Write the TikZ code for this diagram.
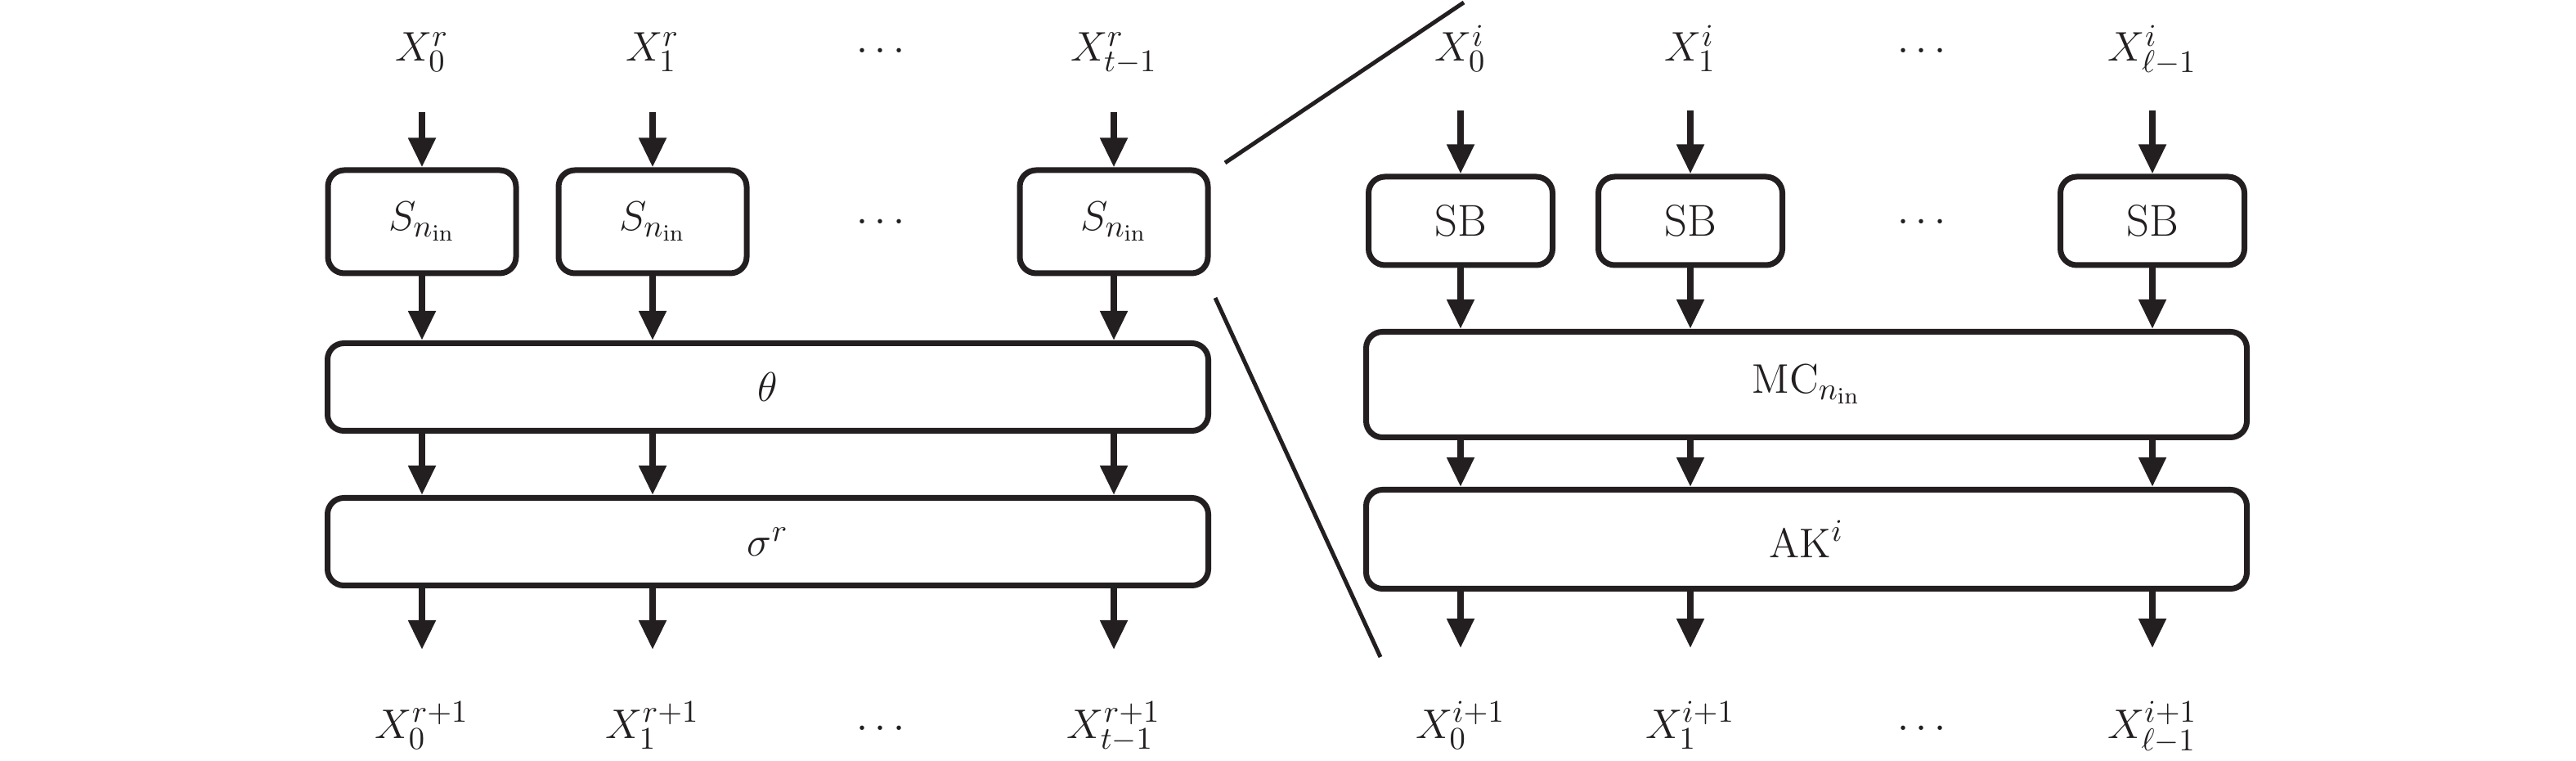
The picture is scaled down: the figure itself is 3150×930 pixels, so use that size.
\documentclass[tikz,border=0pt]{standalone}
\usetikzlibrary{arrows.meta}
\definecolor{ink}{RGB}{35,31,32}

\begin{document}
\begin{tikzpicture}[
	x=0.1mm,
	y=-0.1mm,
	every node/.style={text=ink,font=\fontsize{15.5}{18}\selectfont},
	lbl/.style={anchor=base},
	box/.style={draw=ink,line width=0.7mm,rounded corners=2mm,inner sep=0pt},
	sbox/.style={box,minimum width=23mm,minimum height=12.6mm},
	sbbox/.style={box,minimum width=22.5mm,minimum height=10.8mm},
	wbox/.style={box,minimum width=107.7mm},
	arr/.style={draw=ink,line width=0.8mm,-{Triangle[length=3.6mm,width=3.2mm]}},
	zoomline/.style={draw=ink,line width=0.5mm}
	]
	\useasboundingbox (0,0) rectangle (3150,930);
	% left: one round
	\node[lbl] (Xr0) at (516,75) {$X^{r}_{0}$};
	\node[lbl] (Xr1) at (798,75) {$X^{r}_{1}$};
	\node[lbl] (Xrd) at (1077,75) {$\cdots$};
	\node[lbl] (Xrt) at (1362,75) {$X^{r}_{t-1}$};
	\node[sbox] (S1) at (516,271) {$S_{n_{\mathrm{in}}}$};
	\node[sbox] (S2) at (798,271) {$S_{n_{\mathrm{in}}}$};
	\node[lbl] (Sd) at (1077,284) {$\cdots$};
	\node[sbox] (S3) at (1362,271) {$S_{n_{\mathrm{in}}}$};
	\node[wbox,minimum height=10.7mm] (theta) at (939,473) {$\theta$};
	\node[wbox,minimum height=10.7mm] (sigma) at (939,662) {$\sigma^{r}$};
	\node[lbl] (Yr0) at (516,903) {$X^{r+1}_{0}$};
	\node[lbl] (Yr1) at (798,903) {$X^{r+1}_{1}$};
	\node[lbl] (Yrd) at (1077,903) {$\cdots$};
	\node[lbl] (Yrt) at (1362,903) {$X^{r+1}_{t-1}$};
	\coordinate (in1) at (516,137);
	\coordinate (in2) at (798,137);
	\coordinate (in3) at (1362,137);
	\coordinate (out1) at (516,794);
	\coordinate (out2) at (798,794);
	\coordinate (out3) at (1362,794);
	\draw[arr] (in1) -- (S1.north);
	\draw[arr] (in2) -- (S2.north);
	\draw[arr] (in3) -- (S3.north);
	\draw[arr] (S1.south) -- (theta.north -| S1);
	\draw[arr] (S2.south) -- (theta.north -| S2);
	\draw[arr] (S3.south) -- (theta.north -| S3);
	\draw[arr] (theta.south -| S1) -- (sigma.north -| S1);
	\draw[arr] (theta.south -| S2) -- (sigma.north -| S2);
	\draw[arr] (theta.south -| S3) -- (sigma.north -| S3);
	\draw[arr] (sigma.south -| S1) -- (out1);
	\draw[arr] (sigma.south -| S2) -- (out2);
	\draw[arr] (sigma.south -| S3) -- (out3);
	% right: inside the S-box
	\node[lbl] (Xi0) at (1786,75) {$X^{i}_{0}$};
	\node[lbl] (Xi1) at (2067,75) {$X^{i}_{1}$};
	\node[lbl] (Xid) at (2350,75) {$\cdots$};
	\node[lbl] (Xil) at (2632,75) {$X^{i}_{\ell-1}$};
	\node[sbbox] (SB1) at (1786,270) {SB};
	\node[sbbox] (SB2) at (2067,270) {SB};
	\node[lbl] (SBd) at (2350,284) {$\cdots$};
	\node[sbbox] (SB3) at (2632,270) {SB};
	\node[wbox,minimum height=12.9mm] (MC) at (2209,470) {$\mathrm{MC}_{n_{\mathrm{in}}}$};
	\node[wbox,minimum height=12.1mm] (AK) at (2209,659) {$\mathrm{AK}^{i}$};
	\node[lbl] (Yi0) at (1786,903) {$X^{i+1}_{0}$};
	\node[lbl] (Yi1) at (2067,903) {$X^{i+1}_{1}$};
	\node[lbl] (Yid) at (2350,903) {$\cdots$};
	\node[lbl] (Yil) at (2632,903) {$X^{i+1}_{\ell-1}$};
	\coordinate (in4) at (1786,135);
	\coordinate (in5) at (2067,135);
	\coordinate (in6) at (2632,135);
	\coordinate (out4) at (1786,792);
	\coordinate (out5) at (2067,792);
	\coordinate (out6) at (2632,792);
	\draw[arr] (in4) -- (SB1.north);
	\draw[arr] (in5) -- (SB2.north);
	\draw[arr] (in6) -- (SB3.north);
	\draw[arr] (SB1.south) -- (MC.north -| SB1);
	\draw[arr] (SB2.south) -- (MC.north -| SB2);
	\draw[arr] (SB3.south) -- (MC.north -| SB3);
	\draw[arr] (MC.south -| SB1) -- (AK.north -| SB1);
	\draw[arr] (MC.south -| SB2) -- (AK.north -| SB2);
	\draw[arr] (MC.south -| SB3) -- (AK.north -| SB3);
	\draw[arr] (AK.south -| SB1) -- (out4);
	\draw[arr] (AK.south -| SB2) -- (out5);
	\draw[arr] (AK.south -| SB3) -- (out6);
	% zoom lines
	\coordinate (z1) at (1498,199);
	\coordinate (z2) at (1790,3);
	\coordinate (z3) at (1486,364);
	\coordinate (z4) at (1688,803);
	\draw[zoomline] (z1) -- (z2);
	\draw[zoomline] (z3) -- (z4);
\end{tikzpicture}
\end{document}
